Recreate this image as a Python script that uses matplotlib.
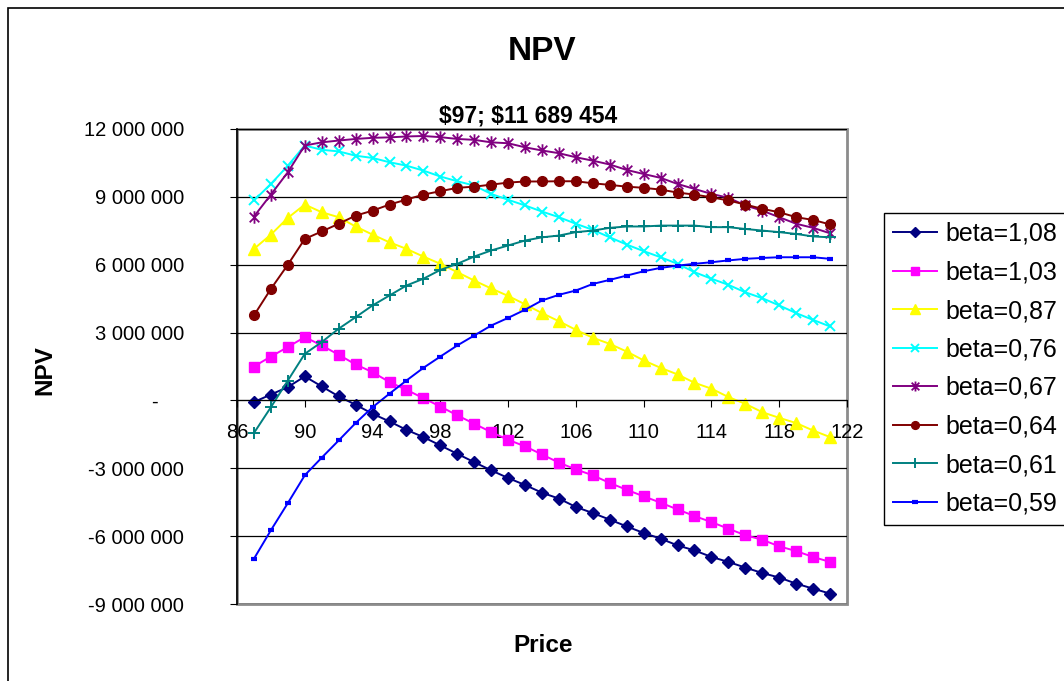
import numpy as np
import matplotlib
matplotlib.use("Agg")
import matplotlib.pyplot as plt
from matplotlib.path import Path
from matplotlib.patches import Rectangle
from matplotlib.transforms import ScaledTranslation

plt.rcParams['font.family'] = ['Liberation Sans', 'DejaVu Sans']

# prices 87..121, NPV in millions
price = np.arange(87, 122)

npv_108 = [-0.07, 0.26, 0.59, 1.06, 0.62, 0.18, -0.19, -0.59, -0.93, -1.30, -1.62, -1.99,
           -2.36, -2.73, -3.09, -3.43, -3.74, -4.08, -4.34, -4.71, -4.98, -5.27, -5.57, -5.86,
           -6.11, -6.41, -6.63, -6.92, -7.14, -7.39, -7.63, -7.83, -8.10, -8.32, -8.54]
npv_103 = [1.50, 1.94, 2.36, 2.80, 2.43, 2.02, 1.59, 1.25, 0.81, 0.47, 0.10, -0.27,
           -0.66, -1.03, -1.40, -1.74, -2.03, -2.39, -2.75, -3.05, -3.31, -3.65, -3.95, -4.24,
           -4.52, -4.82, -5.11, -5.38, -5.67, -5.96, -6.16, -6.45, -6.66, -6.92, -7.14]
npv_087 = [6.70, 7.33, 8.07, 8.66, 8.32, 8.10, 7.69, 7.33, 6.99, 6.70, 6.36, 6.04,
           5.67, 5.30, 4.95, 4.62, 4.25, 3.86, 3.50, 3.12, 2.77, 2.50, 2.16, 1.77,
           1.44, 1.15, 0.78, 0.52, 0.15, -0.15, -0.52, -0.77, -1.00, -1.33, -1.62]
npv_076 = [8.84, 9.57, 10.38, 11.27, 11.08, 11.01, 10.82, 10.72, 10.53, 10.38, 10.16, 9.90,
           9.69, 9.50, 9.13, 8.87, 8.62, 8.35, 8.10, 7.81, 7.54, 7.21, 6.89, 6.60,
           6.33, 6.04, 5.67, 5.38, 5.11, 4.78, 4.52, 4.20, 3.86, 3.56, 3.27]
npv_067 = [8.13, 9.10, 10.09, 11.27, 11.41, 11.49, 11.56, 11.61, 11.63, 11.67, 11.69, 11.64,
           11.56, 11.52, 11.41, 11.37, 11.19, 11.05, 10.93, 10.75, 10.60, 10.43, 10.19, 10.01,
           9.84, 9.57, 9.35, 9.13, 8.96, 8.62, 8.39, 8.10, 7.81, 7.63, 7.39]
npv_064 = [3.76, 4.93, 6.00, 7.14, 7.47, 7.81, 8.17, 8.39, 8.66, 8.88, 9.10, 9.25,
           9.40, 9.45, 9.54, 9.63, 9.68, 9.68, 9.69, 9.69, 9.60, 9.53, 9.45, 9.40,
           9.32, 9.19, 9.10, 8.98, 8.84, 8.66, 8.47, 8.32, 8.10, 7.98, 7.78]
npv_061 = [-1.44, -0.30, 0.88, 2.06, 2.58, 3.17, 3.68, 4.20, 4.64, 5.08, 5.38, 5.77,
           6.04, 6.36, 6.63, 6.85, 7.07, 7.21, 7.29, 7.44, 7.51, 7.63, 7.69, 7.69,
           7.73, 7.73, 7.73, 7.66, 7.66, 7.58, 7.51, 7.44, 7.36, 7.25, 7.21]
npv_059 = [-7.00, -5.74, -4.54, -3.31, -2.53, -1.77, -1.00, -0.30, 0.30, 0.88, 1.44, 1.94,
           2.43, 2.87, 3.31, 3.65, 4.01, 4.42, 4.67, 4.86, 5.15, 5.33, 5.52, 5.71,
           5.86, 5.96, 6.04, 6.11, 6.19, 6.26, 6.30, 6.33, 6.33, 6.33, 6.26]

labels = ["beta=1,08", "beta=1,03", "beta=0,87", "beta=0,76",
          "beta=0,67", "beta=0,64", "beta=0,61", "beta=0,59"]
series = [npv_108, npv_103, npv_087, npv_076, npv_067, npv_064, npv_061, npv_059]
colors = ["#000080", "#FF00FF", "#FFFF00", "#00FFFF", "#800080", "#800000", "#008080", "#0000FF"]

# excel style asterisk: x plus vertical bar
star = Path([(-1, -1), (1, 1), (-1, 1), (1, -1), (0, -1.3), (0, 1.3)],
            [Path.MOVETO, Path.LINETO, Path.MOVETO, Path.LINETO, Path.MOVETO, Path.LINETO])
styles = [dict(marker="D", ms=6.5),
          dict(marker="s", ms=6.5),
          dict(marker="^", ms=8.5),
          dict(marker="x", ms=7.5, mew=1.4),
          dict(marker=star, ms=9, mew=1.3),
          dict(marker="o", ms=7),
          dict(marker="+", ms=9, mew=1.4),
          dict(marker="_", ms=5, mew=3)]

fig = plt.figure(figsize=(10.64, 6.81), dpi=100)
ax = fig.add_axes([237/1064, 1 - 604/681, 610/1064, 475/681])

for vals, lab, col, st in zip(series, labels, colors, styles):
    ax.plot(price, np.array(vals) * 1e6, color=col, lw=1.4, label=lab, **st)

ax.set_xlim(86, 122)
ax.set_ylim(-9e6, 12e6)
ax.set_xticks(np.arange(86, 123, 4))
yt = np.arange(-9e6, 12.1e6, 3e6)
ax.set_yticks(yt)
ax.set_yticklabels(["-" if v == 0 else f"{v:,.0f}".replace(",", " ") for v in yt])
ax.grid(axis="y", color="black", lw=0.9)
ax.set_axisbelow(True)

for s in ["top", "right"]:
    ax.spines[s].set_visible(False)
ax.spines["bottom"].set_position(("data", 0))
ax.spines["bottom"].set_color("black")
ax.spines["left"].set_color("black")
ax.spines["left"].set_linewidth(1.2)
ax.add_patch(Rectangle((0, 0), 1, 1, transform=ax.transAxes, fill=False,
                       ec="#8c8c8c", lw=2, zorder=0, clip_on=False))

ax.tick_params(axis="x", direction="out", length=5, pad=11, labelsize=14.5)
ax.tick_params(axis="y", direction="out", length=5, pad=33, labelsize=14.5)

# zero label "-" sits left of the others (accounting format)
for lbl, v in zip(ax.get_yticklabels(), yt):
    if v == 0:
        lbl.set_transform(lbl.get_transform() + ScaledTranslation(-0.26, 0, fig.dpi_scale_trans))

fig.text(542/1064, 1 - 52/681, "NPV", ha="center", va="center", fontsize=24, fontweight="bold")
fig.text(528/1064, 1 - 116/681, "$97; $11 689 454", ha="center", va="center",
         fontsize=16.5, fontweight="bold", parse_math=False)
fig.text(543/1064, 1 - 645/681, "Price", ha="center", va="center", fontsize=17.5, fontweight="bold")
fig.text(45/1064, 1 - 370/681, "NPV", ha="center", va="center", rotation=90,
         fontsize=17.5, fontweight="bold")

leg = fig.legend(loc="upper left", bbox_to_anchor=(884/1064, 1 - 213/681), fontsize=18,
                 frameon=True, fancybox=False, edgecolor="black", framealpha=1,
                 borderaxespad=0, handlelength=1.76, handletextpad=0.32, labelspacing=0.58,
                 borderpad=0.36, markerscale=0.8)
leg.get_frame().set_linewidth(1.0)

# outer chart border
fig.patches.append(Rectangle((8/1064, -0.1), 1.2, 1 - 8/681 + 0.1, transform=fig.transFigure,
                             fill=False, ec="black", lw=1.2))

plt.savefig("out.png", dpi=100)
